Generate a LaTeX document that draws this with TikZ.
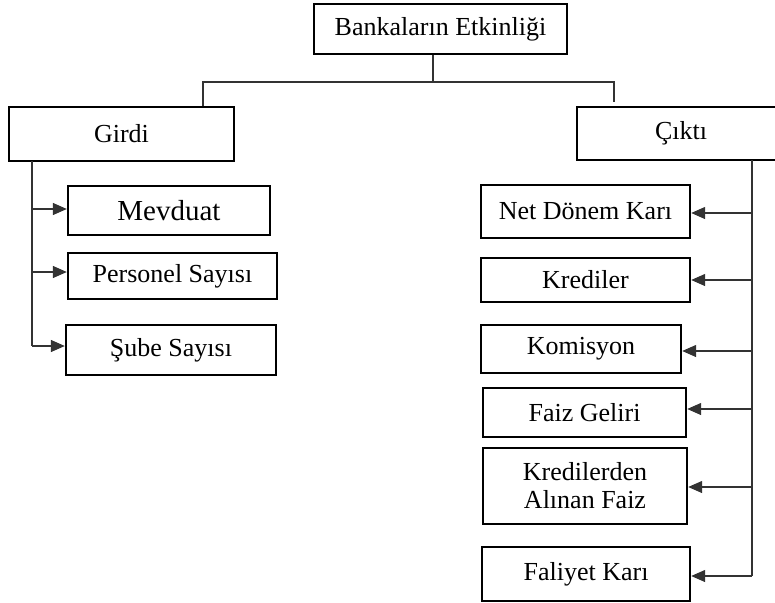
\documentclass[tikz,border=0pt]{standalone}
\usepackage{fontspec}
\setmainfont{Liberation Serif}
\usetikzlibrary{arrows.meta}
\begin{document}
\begin{tikzpicture}[x=1pt,y=-1pt,
  box/.style={draw=black,line width=2.4pt,inner sep=0pt,align=center,font=\fontsize{26}{28}\selectfont},
  conn/.style={draw=black!80,line width=1.3pt},
  arr/.style={conn,-{Triangle[length=14pt,width=12pt]}}]
\useasboundingbox (0,0) rectangle (775,602);
\node[box,minimum width=253pt,minimum height=50pt] (top) at (440.5,29) {Bankaların Etkinliği};
\node[box,minimum width=225pt,minimum height=54pt] (girdi) at (121.5,134) {Girdi};
\node[box,minimum width=208pt,minimum height=53pt] (cikti) at (681,133.5) {Çıktı};
\node[box,minimum width=202pt,minimum height=49pt,font=\fontsize{29}{30}\selectfont] (mev) at (169,210.5) {Mevduat};
\node[box,minimum width=209pt,minimum height=46pt] (pers) at (172.5,276) {Personel Sayısı};
\node[box,minimum width=210pt,minimum height=50pt] (sube) at (171,350) {Şube Sayısı};
\node[box,minimum width=209pt,minimum height=53pt] (net) at (585.5,211.5) {Net Dönem Karı};
\node[box,minimum width=209pt,minimum height=44pt] (kred) at (585.5,280) {Krediler};
\node[box,minimum width=200pt,minimum height=48pt] (kom) at (581,349) {Komisyon};
\node[box,minimum width=203pt,minimum height=49pt] (faiz) at (584.5,412.5) {Faiz Geliri};
\node[box,minimum width=204pt,minimum height=76pt] (kaf) at (585,486) {Kredilerden\\Alınan Faiz};
\node[box,minimum width=208pt,minimum height=54pt] (fal) at (586,574) {Faliyet Karı};
% top connectors
\coordinate (hm) at (433,82);
\coordinate (hl) at (203,82);
\coordinate (hr) at (614,82);
\coordinate (hre) at (614,102);
\draw[conn] (top.south -| hm) -- (hm);
\draw[conn] (girdi.north -| hl) -- (hl) -- (hr) -- (hre);
% left side
\coordinate (lv) at (32,161);
\coordinate (l1) at (32,209);
\coordinate (l2) at (32,272);
\coordinate (l3) at (32,346);
\draw[conn] (lv) -- (l3);
\draw[arr] (l1) -- (mev.west |- l1);
\draw[arr] (l2) -- (pers.west |- l2);
\draw[arr] (l3) -- (sube.west |- l3);
% right side
\coordinate (rv) at (752,160);
\coordinate (r1) at (752,213);
\coordinate (r2) at (752,280);
\coordinate (r3) at (752,351);
\coordinate (r4) at (752,409);
\coordinate (r5) at (752,487);
\coordinate (r6) at (752,576);
\draw[conn] (rv) -- (r6);
\draw[arr] (r1) -- (net.east |- r1);
\draw[arr] (r2) -- (kred.east |- r2);
\draw[arr] (r3) -- (kom.east |- r3);
\draw[arr] (r4) -- (faiz.east |- r4);
\draw[arr] (r5) -- (kaf.east |- r5);
\draw[arr] (r6) -- (fal.east |- r6);
\end{tikzpicture}
\end{document}
